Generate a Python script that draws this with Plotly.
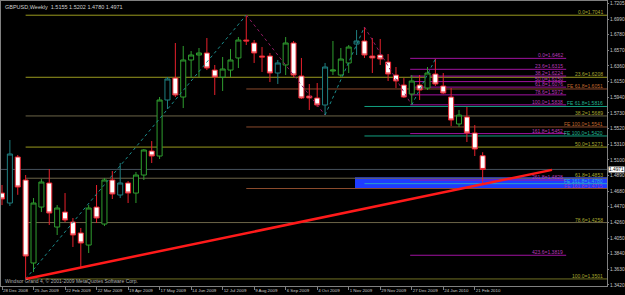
import plotly.graph_objects as go

# ---------------- data ----------------
weeks = list(range(62))
opens = [1.4654, 1.4520, 1.5138, 1.4829, 1.3715, 1.4466, 1.4789, 1.4198, 1.4399, 1.4265,
         1.4118, 1.3956, 1.4466, 1.4238, 1.4829, 1.4628, 1.4789, 1.4654, 1.4896, 1.5218,
         1.5151, 1.5903, 1.6198, 1.5943, 1.6440, 1.6507, 1.6534, 1.6305, 1.6211, 1.6305,
         1.6467, 1.6708, 1.6668, 1.6493, 1.6493, 1.6265, 1.6373, 1.6668, 1.6225, 1.5956,
         1.5930, 1.5836, 1.6292, 1.6238, 1.6400, 1.6654, 1.6695, 1.6493, 1.6507, 1.6413,
         1.6238, 1.6104, 1.5983, 1.6104, 1.6064, 1.6252, 1.6091, 1.5943, 1.5581, 1.5675,
         1.5460, 1.5155]
highs = [1.4762, 1.5366, 1.5165, 1.4896, 1.4587, 1.4842, 1.4976, 1.4493, 1.4654, 1.4319,
         1.4185, 1.4493, 1.4762, 1.4856, 1.4950, 1.5057, 1.4815, 1.4936, 1.5245, 1.5352,
         1.5943, 1.6211, 1.6668, 1.6628, 1.6560, 1.6601, 1.6735, 1.6373, 1.6480, 1.6587,
         1.6748, 1.7044, 1.6708, 1.6614, 1.6534, 1.6440, 1.6748, 1.6695, 1.6467, 1.6118,
         1.6131, 1.6400, 1.6695, 1.6601, 1.6641, 1.6842, 1.6883, 1.6735, 1.6722, 1.6520,
         1.6346, 1.6198, 1.6238, 1.6238, 1.6346, 1.6453, 1.6265, 1.6064, 1.5769, 1.5809,
         1.5567, 1.5202]
lows = [1.4493, 1.4480, 1.4630, 1.3501, 1.3594, 1.4399, 1.4225, 1.4091, 1.4265, 1.3930,
        1.3648, 1.3849, 1.4252, 1.4211, 1.4574, 1.4587, 1.4520, 1.4520, 1.4829, 1.5057,
        1.5111, 1.5782, 1.5943, 1.5795, 1.6198, 1.6211, 1.6305, 1.5970, 1.6024, 1.6211,
        1.6332, 1.6641, 1.6400, 1.6279, 1.6144, 1.6118, 1.6238, 1.6211, 1.5916, 1.5769,
        1.5809, 1.5701, 1.6238, 1.6211, 1.6265, 1.6507, 1.6467, 1.6265, 1.6373, 1.6158,
        1.6064, 1.5930, 1.5836, 1.5903, 1.6037, 1.6091, 1.5983, 1.5554, 1.5540, 1.5339,
        1.5151, 1.4780]
closes = [1.4574, 1.5178, 1.4735, 1.3809, 1.4520, 1.4802, 1.4386, 1.4453, 1.4292, 1.4091,
          1.3983, 1.4453, 1.4319, 1.4829, 1.4641, 1.4789, 1.4654, 1.4896, 1.5232, 1.5151,
          1.5903, 1.6185, 1.5970, 1.6440, 1.6507, 1.6534, 1.6332, 1.6211, 1.6319, 1.6440,
          1.6708, 1.6695, 1.6534, 1.6480, 1.6265, 1.6400, 1.6668, 1.6238, 1.5930, 1.5930,
          1.5836, 1.6346, 1.6305, 1.6453, 1.6614, 1.6695, 1.6507, 1.6467, 1.6453, 1.6252,
          1.6158, 1.5943, 1.6158, 1.6037, 1.6265, 1.6118, 1.5997, 1.5634, 1.5701, 1.5460,
          1.5245, 1.4971]

date_label_weeks = [0, 4, 8, 12, 16, 20, 24, 28, 32, 36, 40, 44, 48, 52, 56, 60]
date_labels = ["28 Dec 2008", "25 Jan 2009", "22 Feb 2009", "22 Mar 2009", "19 Apr 2009",
               "17 May 2009", "14 Jun 2009", "12 Jul 2009", "9 Aug 2009", "6 Sep 2009",
               "4 Oct 2009", "1 Nov 2009", "29 Nov 2009", "27 Dec 2009", "24 Jan 2010",
               "21 Feb 2010"]

price_ticks = [1.7205, 1.6990, 1.6780, 1.6570, 1.6360, 1.6150, 1.5940, 1.5730, 1.5520,
               1.5310, 1.5100, 1.4890, 1.4680, 1.4470, 1.4260, 1.4050, 1.3840, 1.3630, 1.3420]

# main Fibonacci retracement (Jan 2009 low -> Aug 2009 high)
fib_main_levels = ["0.0", "23.6", "38.2", "50.0", "61.8", "78.6", "100.0"]
fib_main_prices = [1.7041, 1.6208, 1.5689, 1.5271, 1.4853, 1.4258, 1.3501]

# second Fibonacci set (magenta)
fib_mag_levels = ["0.0", "23.6", "38.2", "50.0", "61.8", "78.6", "100.0", "161.8", "261.8", "423.6"]
fib_mag_prices = [1.6462, 1.6315, 1.6224, 1.6150, 1.6076, 1.5972, 1.5838, 1.5452, 1.4828, 1.3819]

# Fibonacci expansions
fe_orange_levels = ["61.8", "100.0", "161.8"]
fe_orange_prices = [1.6051, 1.5541, 1.4715]
fe_teal_levels = ["61.8", "100.0", "161.8"]
fe_teal_prices = [1.5816, 1.5420, 1.4780]

zigzag_weeks = [3, 31, 41, 46, 52, 55]
zigzag_prices = [1.3501, 1.7044, 1.5701, 1.6883, 1.5836, 1.6453]

trend_weeks = [3, 69.8]
trend_prices = [1.3501, 1.4965]

zone_weeks = [44.8, 76.8]
zone_prices = [1.4720, 1.4866]

last_price = 1.4971
header = "GBPUSD,Weekly  1.5155 1.5202 1.4780 1.4971"
footer = "Windsor Grand 4, \u00a9 2001-2009 MetaQuotes Software Corp."

# ---------------- styling ----------------
teal_candles = {1, 15, 21, 35, 41, 45}
X_MIN, X_MAX = -0.127, 76.78
Y_MIN, Y_MAX = 1.34064, 1.72318
FONT = "Liberation Sans, Arial, sans-serif"
FS_LBL = 5.0
FS_YT = 4.8
FS_XT = 4.4

fig = go.Figure()

# blue zone (drawn below everything)
fig.add_shape(type="rect", x0=zone_weeks[0], x1=zone_weeks[1], y0=zone_prices[0], y1=zone_prices[1],
              xref="x", yref="y", fillcolor="#1e3cff", line=dict(width=0), layer="below")


def hline(x0, x1, y, color, width=1, dash="solid"):
    fig.add_shape(type="line", x0=x0, x1=x1, y0=y, y1=y, xref="x", yref="y",
                  line=dict(color=color, width=width, dash=dash), layer="below")


def label(x, y, text, color):
    fig.add_annotation(x=x, y=y, xref="x", yref="y", text=text, showarrow=False,
                       xanchor="right", yanchor="bottom", yshift=-2,
                       font=dict(family=FONT, size=FS_LBL, color=color))


# current price line
hline(X_MIN, X_MAX, last_price, "#46505c", 1)

# main fib
main_colors = {"0.0": "#9a9a1e", "23.6": "#9a9a1e", "50.0": "#9a9a1e",
               "38.2": "#6c6448", "61.8": "#6c6448", "78.6": "#6c6448", "100.0": "#707024"}
for lv, p in zip(fib_main_levels, fib_main_prices):
    hline(3, X_MAX, p, main_colors[lv], 1)
    label(76.5, p, f"{lv}={p:.4f}", "#a8a830")

# orange FE
for lv, p in zip(fe_orange_levels, fe_orange_prices):
    hline(31, X_MAX, p, "#8a4a2c", 1)
    label(76.5, p, f"FE {lv}={p:.4f}", "#c0682e" if lv != "161.8" else "#9a3cc0")

# teal FE
for lv, p in zip(fe_teal_levels, fe_teal_prices):
    hline(46, X_MAX, p, "#12a080" if lv != "161.8" else "#2aa0c8", 1)
    label(76.5, p, f"FE {lv}={p:.4f}", "#20b590" if lv != "161.8" else "#30b8d0")

# magenta fib
for lv, p in zip(fib_mag_levels, fib_mag_prices):
    hline(51.8, 71.6, p, "#a012a0", 1)
    label(71.4, p, f"{lv}={p:.4f}", "#b83ab8")

# zigzag
for k in range(len(zigzag_weeks) - 1):
    up = zigzag_prices[k + 1] > zigzag_prices[k]
    fig.add_trace(go.Scatter(x=zigzag_weeks[k:k + 2], y=zigzag_prices[k:k + 2], mode="lines",
                             line=dict(color="#1c8c8c" if up else "#8c1a60", width=1, dash="dot"),
                             hoverinfo="skip", showlegend=False))

# candles
main_idx = [i for i in weeks if i not in teal_candles]
teal_idx = [i for i in weeks if i in teal_candles]


def sub(arr, idx):
    return [arr[i] for i in idx]


fig.add_trace(go.Candlestick(
    x=sub(weeks, main_idx), open=sub(opens, main_idx), high=sub(highs, main_idx),
    low=sub(lows, main_idx), close=sub(closes, main_idx),
    increasing=dict(line=dict(color="#2f9e2f", width=1), fillcolor="#000000"),
    decreasing=dict(line=dict(color="#e8202c", width=1), fillcolor="#ffffff"),
    whiskerwidth=0, showlegend=False, hoverinfo="skip"))
fig.add_trace(go.Candlestick(
    x=sub(weeks, teal_idx), open=sub(opens, teal_idx), high=sub(highs, teal_idx),
    low=sub(lows, teal_idx), close=sub(closes, teal_idx),
    increasing=dict(line=dict(color="#1f7f80", width=1), fillcolor="#000000"),
    decreasing=dict(line=dict(color="#e8202c", width=1), fillcolor="#ffffff"),
    whiskerwidth=0, showlegend=False, hoverinfo="skip"))

# red trendline
fig.add_trace(go.Scatter(x=trend_weeks, y=trend_prices, mode="lines",
                         line=dict(color="#ff1a1a", width=2.5), hoverinfo="skip", showlegend=False))

# header / footer
fig.add_annotation(x=0.003, y=0.995, xref="paper", yref="paper", text=header, showarrow=False,
                   xanchor="left", yanchor="top", font=dict(family=FONT, size=5.5, color="#d0d0d0"))
fig.add_annotation(x=0.003, y=0.0, xref="paper", yref="paper", text=footer, showarrow=False,
                   xanchor="left", yanchor="bottom", font=dict(family=FONT, size=5.0, color="#b0b0b0"))

# last price tag
fig.add_annotation(x=1.0, y=last_price, xref="paper", yref="y", text=f"{last_price:.4f}",
                   showarrow=False, xanchor="left", xshift=1, bgcolor="#ffffff", borderpad=0,
                   font=dict(family=FONT, size=FS_YT, color="#000000"))

fig.update_layout(
    width=625, height=295,
    margin=dict(l=1, r=18, t=1, b=9, autoexpand=False),
    paper_bgcolor="#000000", plot_bgcolor="#000000",
    showlegend=False, boxgap=0.2, boxgroupgap=0.2,
    xaxis=dict(range=[X_MIN, X_MAX], tickvals=date_label_weeks, ticktext=date_labels,
               tickangle=0, automargin=False,
               ticks="outside", ticklen=3, tickcolor="#808080", ticklabelposition="outside right",
               tickfont=dict(family=FONT, size=FS_XT, color="#c8c8c8"),
               showgrid=False, zeroline=False, showline=True, mirror=True, linecolor="#808080",
               rangeslider=dict(visible=False), fixedrange=True),
    yaxis=dict(range=[Y_MIN, Y_MAX], side="right", tickvals=price_ticks, automargin=False,
               ticktext=[f"{p:.4f}" for p in price_ticks], ticks="outside", ticklen=1,
               tickcolor="#808080", tickfont=dict(family=FONT, size=FS_YT, color="#c8c8c8"),
               showgrid=False, zeroline=False, showline=True, mirror=True, linecolor="#808080",
               fixedrange=True),
)

fig.write_html("out.html")
